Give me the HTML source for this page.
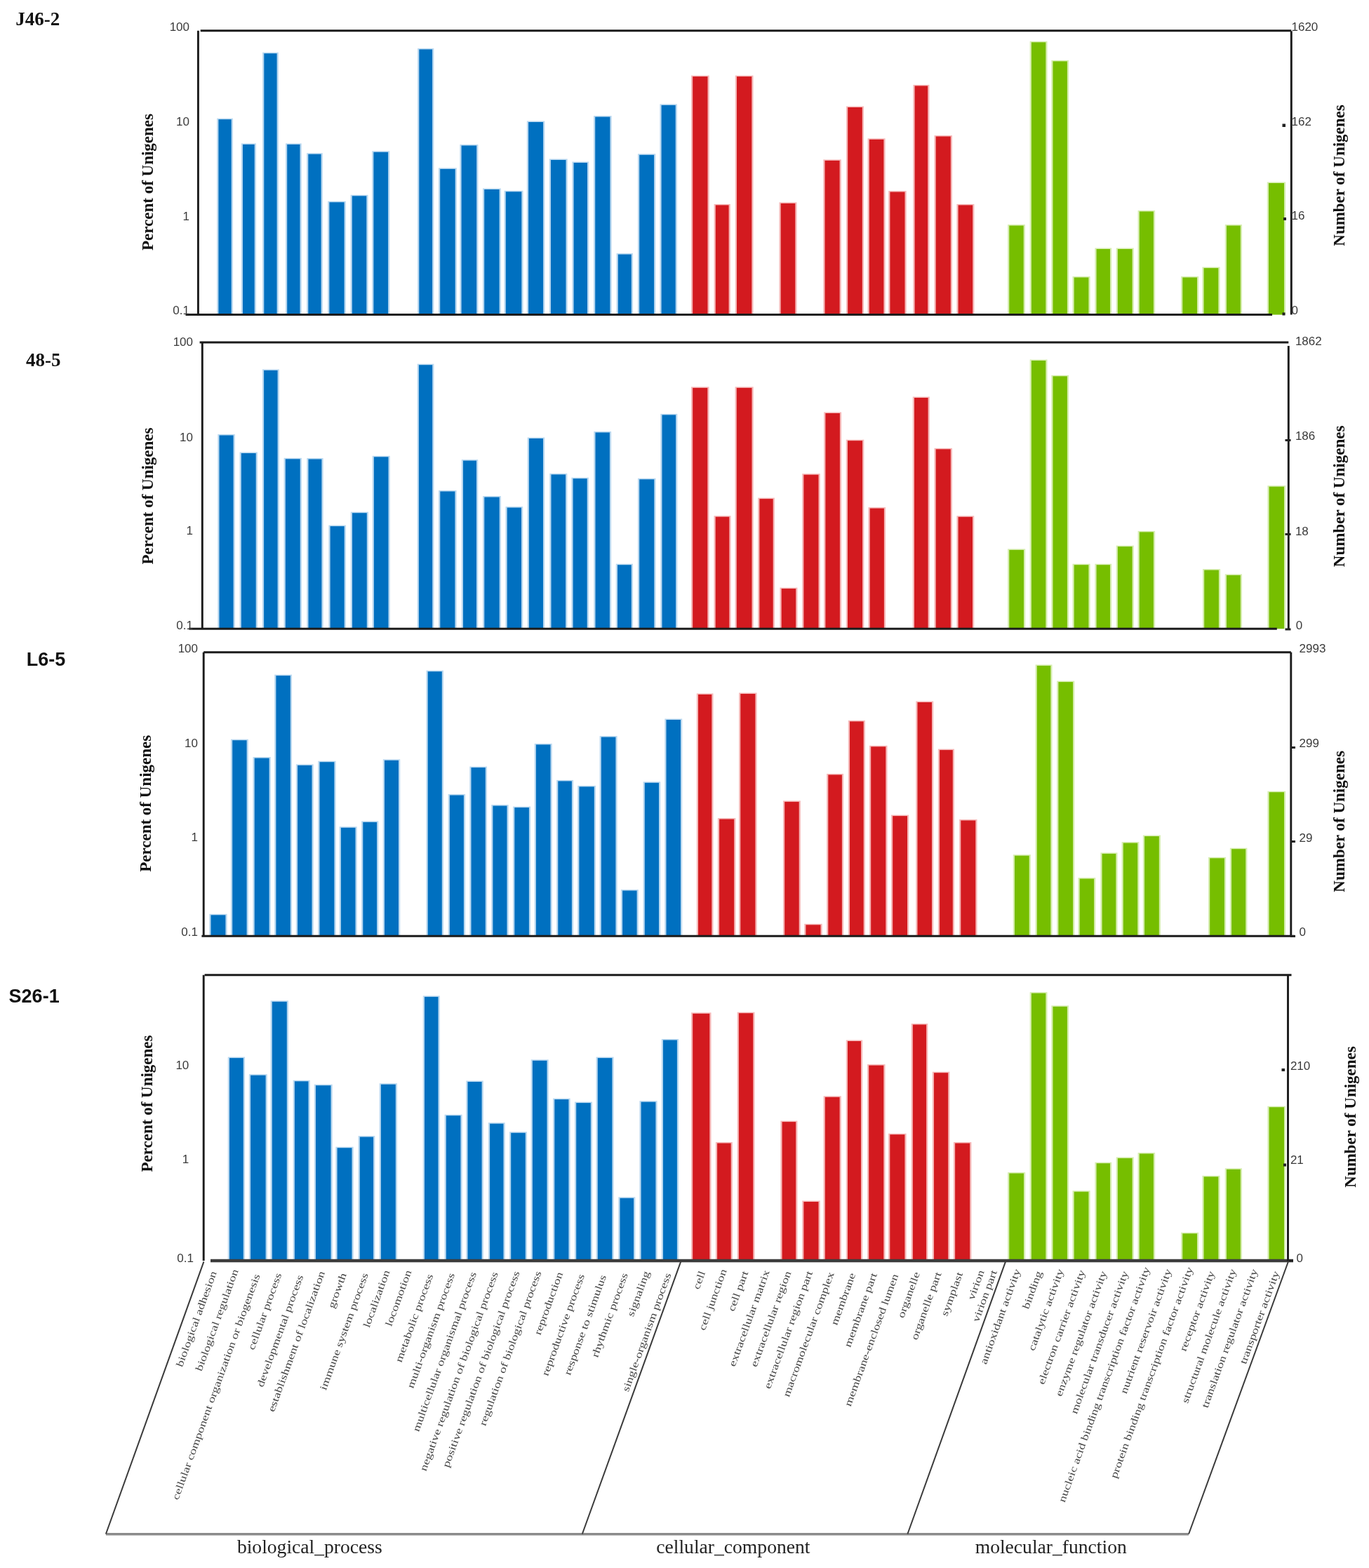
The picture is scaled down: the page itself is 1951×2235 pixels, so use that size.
<!DOCTYPE html>
<html><head><meta charset="utf-8"><title>GO classification</title>
<style>html,body{margin:0;padding:0;background:#fff;}svg{display:block;filter:blur(0.5px);}</style></head><body>
<svg width="1951" height="2235" viewBox="0 0 1951 2235">
<rect width="1951" height="2235" fill="#fff"/>
<g>
<g fill="#B9D8F0"><rect x="309.2" y="168.7" width="22.7" height="279.8"/><rect x="343.8" y="204.4" width="21.1" height="244.1"/><rect x="374.1" y="74.7" width="22.7" height="373.8"/><rect x="407" y="204.4" width="22.7" height="244.1"/><rect x="437.1" y="218.2" width="22.7" height="230.3"/><rect x="467.2" y="286.8" width="25.6" height="161.7"/><rect x="499.6" y="277.8" width="24.9" height="170.7"/><rect x="530.2" y="215.3" width="25.1" height="233.2"/><rect x="595.1" y="68.9" width="23.2" height="379.6"/><rect x="625" y="239.4" width="25.9" height="209.1"/><rect x="655.4" y="206" width="26" height="242.5"/><rect x="688" y="268.5" width="25.8" height="180"/><rect x="718.6" y="271.8" width="26.9" height="176.7"/><rect x="750.9" y="172.5" width="25.4" height="276"/><rect x="782.8" y="226.5" width="25.9" height="222"/><rect x="815.4" y="230.5" width="23.8" height="218"/><rect x="846" y="165.1" width="25.6" height="283.4"/><rect x="878.6" y="361.1" width="23.4" height="87.4"/><rect x="909" y="219.3" width="25.3" height="229.2"/><rect x="940.4" y="148.4" width="24.5" height="300.1"/></g>
<g fill="#0070C0"><rect x="311.4" y="170.2" width="18.3" height="278.3"/><rect x="346" y="205.9" width="16.7" height="242.6"/><rect x="376.3" y="76.2" width="18.3" height="372.3"/><rect x="409.2" y="205.9" width="18.3" height="242.6"/><rect x="439.3" y="219.7" width="18.3" height="228.8"/><rect x="469.4" y="288.3" width="21.2" height="160.2"/><rect x="501.8" y="279.3" width="20.5" height="169.2"/><rect x="532.4" y="216.8" width="20.7" height="231.7"/><rect x="597.3" y="70.4" width="18.8" height="378.1"/><rect x="627.2" y="240.9" width="21.5" height="207.6"/><rect x="657.6" y="207.5" width="21.6" height="241"/><rect x="690.2" y="270" width="21.4" height="178.5"/><rect x="720.8" y="273.3" width="22.5" height="175.2"/><rect x="753.1" y="174" width="21" height="274.5"/><rect x="785" y="228" width="21.5" height="220.5"/><rect x="817.6" y="232" width="19.4" height="216.5"/><rect x="848.2" y="166.6" width="21.2" height="281.9"/><rect x="880.8" y="362.6" width="19" height="85.9"/><rect x="911.2" y="220.8" width="20.9" height="227.7"/><rect x="942.6" y="149.9" width="20.1" height="298.6"/></g>
<g fill="#F6B8B8"><rect x="985" y="107.6" width="25.7" height="340.9"/><rect x="1017.6" y="290.9" width="23.2" height="157.6"/><rect x="1047.8" y="107.6" width="25.7" height="340.9"/><rect x="1110.5" y="288.4" width="25" height="160.1"/><rect x="1173.3" y="227.4" width="25.5" height="221.1"/><rect x="1206" y="151.5" width="25" height="297"/><rect x="1236.6" y="197.3" width="25" height="251.2"/><rect x="1266.2" y="272.1" width="25.5" height="176.4"/><rect x="1301.4" y="120.9" width="23" height="327.6"/><rect x="1331.5" y="193" width="25.5" height="255.5"/><rect x="1363.4" y="290.9" width="25" height="157.6"/></g>
<g fill="#D31A1F"><rect x="987.2" y="109.1" width="21.3" height="339.4"/><rect x="1019.8" y="292.4" width="18.8" height="156.1"/><rect x="1050" y="109.1" width="21.3" height="339.4"/><rect x="1112.7" y="289.9" width="20.6" height="158.6"/><rect x="1175.5" y="228.9" width="21.1" height="219.6"/><rect x="1208.2" y="153" width="20.6" height="295.5"/><rect x="1238.8" y="198.8" width="20.6" height="249.7"/><rect x="1268.4" y="273.6" width="21.1" height="174.9"/><rect x="1303.6" y="122.4" width="18.6" height="326.1"/><rect x="1333.7" y="194.5" width="21.1" height="254"/><rect x="1365.6" y="292.4" width="20.6" height="156.1"/></g>
<g fill="#D6EDB0"><rect x="1436.1" y="320.1" width="24.8" height="128.4"/><rect x="1467.7" y="58.8" width="24.8" height="389.7"/><rect x="1498.3" y="85.9" width="24.8" height="362.6"/><rect x="1528.5" y="394" width="25.1" height="54.5"/><rect x="1560.4" y="353.5" width="23.8" height="95"/><rect x="1590.7" y="353.5" width="25.1" height="95"/><rect x="1621.6" y="300" width="24.5" height="148.5"/><rect x="1683.1" y="394" width="25.1" height="54.5"/><rect x="1713.4" y="380.6" width="25.1" height="67.9"/><rect x="1745.8" y="320.1" width="24.2" height="128.4"/><rect x="1805.8" y="259.5" width="26.4" height="189"/></g>
<g fill="#76BE00"><rect x="1438.3" y="321.6" width="20.4" height="126.9"/><rect x="1469.9" y="60.3" width="20.4" height="388.2"/><rect x="1500.5" y="87.4" width="20.4" height="361.1"/><rect x="1530.7" y="395.5" width="20.7" height="53"/><rect x="1562.6" y="355" width="19.4" height="93.5"/><rect x="1592.9" y="355" width="20.7" height="93.5"/><rect x="1623.8" y="301.5" width="20.1" height="147"/><rect x="1685.3" y="395.5" width="20.7" height="53"/><rect x="1715.6" y="382.1" width="20.7" height="66.4"/><rect x="1748" y="321.6" width="19.8" height="126.9"/><rect x="1808" y="261" width="22" height="187.5"/></g>
<g stroke="#1b1b1b" stroke-width="2.9" fill="none"><line x1="285.7" y1="43.8" x2="1840.3" y2="43.8"/><line x1="282.4" y1="43.8" x2="282.4" y2="448.5"/><line x1="264.5" y1="448.5" x2="1813" y2="448.5" stroke-width="2.9" stroke="#1b1b1b"/><line x1="1840.3" y1="44.3" x2="1840.3" y2="448.5"/></g>
<g font-family='"Liberation Sans", Arial, sans-serif' font-size="17" fill="#3a3a3a"><text x="270" y="43.7" text-anchor="end">100</text><text x="270" y="179" text-anchor="end">10</text><text x="270" y="313.8" text-anchor="end">1</text><text x="270" y="448" text-anchor="end">0.1</text><text x="1840.5" y="44">1620</text><text x="1840.5" y="179.4">162</text><text x="1840.5" y="313.2">16</text><text x="1840.5" y="448">0</text><rect x="1827.5" y="176.5" width="4.5" height="4.5" fill="#222"/><rect x="1829" y="310" width="4" height="4" fill="#222"/><rect x="1827.5" y="445.5" width="4" height="4" fill="#222"/></g>
<text transform="translate(218,259.5) rotate(-90)" text-anchor="middle" font-family='"Liberation Serif", "Times New Roman", serif' font-weight="bold" font-size="23" fill="#111">Percent of Unigenes</text>
<text transform="translate(1916,250) rotate(-90)" text-anchor="middle" font-family='"Liberation Serif", "Times New Roman", serif' font-weight="bold" font-size="23" fill="#111">Number of Unigenes</text>
<text x="22.3" y="36.3" font-family='"Liberation Serif", "Times New Roman", serif' font-weight="bold" font-size="27" fill="#111">J46-2</text>
</g>
<g>
<g fill="#B9D8F0"><rect x="310.3" y="619" width="24.5" height="277.2"/><rect x="341.6" y="644.5" width="25.3" height="251.7"/><rect x="373.9" y="526.4" width="23.9" height="369.8"/><rect x="404.6" y="652.8" width="25.3" height="243.4"/><rect x="437.3" y="653" width="23.3" height="243.2"/><rect x="468.4" y="748.6" width="24.5" height="147.6"/><rect x="499.8" y="729.7" width="25.2" height="166.5"/><rect x="530.7" y="649.8" width="25" height="246.4"/><rect x="594.7" y="518.7" width="23.7" height="377.5"/><rect x="625.1" y="699" width="25.5" height="197.2"/><rect x="657.8" y="655.1" width="23.4" height="241.1"/><rect x="688.1" y="707.1" width="25.8" height="189.1"/><rect x="720.5" y="722.1" width="24.7" height="174.1"/><rect x="751.7" y="623.5" width="24.5" height="272.7"/><rect x="783.3" y="674.9" width="25" height="221.3"/><rect x="814.4" y="680.7" width="24.5" height="215.5"/><rect x="846.3" y="615" width="24.8" height="281.2"/><rect x="877.8" y="803.7" width="24.2" height="92.5"/><rect x="909" y="681.8" width="25.5" height="214.4"/><rect x="941.3" y="589.9" width="24" height="306.3"/></g>
<g fill="#0070C0"><rect x="312.5" y="620.5" width="20.1" height="275.7"/><rect x="343.8" y="646" width="20.9" height="250.2"/><rect x="376.1" y="527.9" width="19.5" height="368.3"/><rect x="406.8" y="654.3" width="20.9" height="241.9"/><rect x="439.5" y="654.5" width="18.9" height="241.7"/><rect x="470.6" y="750.1" width="20.1" height="146.1"/><rect x="502" y="731.2" width="20.8" height="165"/><rect x="532.9" y="651.3" width="20.6" height="244.9"/><rect x="596.9" y="520.2" width="19.3" height="376"/><rect x="627.3" y="700.5" width="21.1" height="195.7"/><rect x="660" y="656.6" width="19" height="239.6"/><rect x="690.3" y="708.6" width="21.4" height="187.6"/><rect x="722.7" y="723.6" width="20.3" height="172.6"/><rect x="753.9" y="625" width="20.1" height="271.2"/><rect x="785.5" y="676.4" width="20.6" height="219.8"/><rect x="816.6" y="682.2" width="20.1" height="214"/><rect x="848.5" y="616.5" width="20.4" height="279.7"/><rect x="880" y="805.2" width="19.8" height="91"/><rect x="911.2" y="683.3" width="21.1" height="212.9"/><rect x="943.5" y="591.4" width="19.6" height="304.8"/></g>
<g fill="#F6B8B8"><rect x="985" y="551.4" width="25.5" height="344.8"/><rect x="1017.5" y="735.2" width="24" height="161"/><rect x="1047.6" y="551.4" width="26.1" height="344.8"/><rect x="1080.2" y="709.6" width="23.7" height="186.6"/><rect x="1111.5" y="837.6" width="24.9" height="58.6"/><rect x="1143.2" y="675.2" width="25.5" height="221"/><rect x="1174.2" y="587.5" width="24.9" height="308.7"/><rect x="1205.8" y="626.7" width="25.5" height="269.5"/><rect x="1237.5" y="723.1" width="24.6" height="173.1"/><rect x="1300.8" y="565.5" width="24" height="330.7"/><rect x="1331.5" y="638.8" width="25.5" height="257.4"/><rect x="1363.4" y="735.3" width="24.8" height="160.9"/></g>
<g fill="#D31A1F"><rect x="987.2" y="552.9" width="21.1" height="343.3"/><rect x="1019.7" y="736.7" width="19.6" height="159.5"/><rect x="1049.8" y="552.9" width="21.7" height="343.3"/><rect x="1082.4" y="711.1" width="19.3" height="185.1"/><rect x="1113.7" y="839.1" width="20.5" height="57.1"/><rect x="1145.4" y="676.7" width="21.1" height="219.5"/><rect x="1176.4" y="589" width="20.5" height="307.2"/><rect x="1208" y="628.2" width="21.1" height="268"/><rect x="1239.7" y="724.6" width="20.2" height="171.6"/><rect x="1303" y="567" width="19.6" height="329.2"/><rect x="1333.7" y="640.3" width="21.1" height="255.9"/><rect x="1365.6" y="736.8" width="20.4" height="159.4"/></g>
<g fill="#D6EDB0"><rect x="1436.1" y="782.4" width="25.1" height="113.8"/><rect x="1467.7" y="512.5" width="24.8" height="383.7"/><rect x="1498.3" y="534.8" width="24.8" height="361.4"/><rect x="1528.5" y="803.7" width="25.1" height="92.5"/><rect x="1560.4" y="803.7" width="23.8" height="92.5"/><rect x="1590.7" y="777.6" width="25.1" height="118.6"/><rect x="1621.6" y="756.9" width="24.5" height="139.3"/><rect x="1714" y="811.1" width="25.1" height="85.1"/><rect x="1745.8" y="818.4" width="24.2" height="77.8"/><rect x="1806.4" y="692.2" width="25.8" height="204"/></g>
<g fill="#76BE00"><rect x="1438.3" y="783.9" width="20.7" height="112.3"/><rect x="1469.9" y="514" width="20.4" height="382.2"/><rect x="1500.5" y="536.3" width="20.4" height="359.9"/><rect x="1530.7" y="805.2" width="20.7" height="91"/><rect x="1562.6" y="805.2" width="19.4" height="91"/><rect x="1592.9" y="779.1" width="20.7" height="117.1"/><rect x="1623.8" y="758.4" width="20.1" height="137.8"/><rect x="1716.2" y="812.6" width="20.7" height="83.6"/><rect x="1748" y="819.9" width="19.8" height="76.3"/><rect x="1808.6" y="693.7" width="21.4" height="202.5"/></g>
<g stroke="#1b1b1b" stroke-width="2.9" fill="none"><line x1="284.6" y1="488" x2="1836.3" y2="488"/><line x1="288.3" y1="488" x2="288.3" y2="896.2"/><line x1="269.3" y1="896.2" x2="1819.8" y2="896.2" stroke-width="2.9" stroke="#1b1b1b"/><line x1="1836.3" y1="493" x2="1836.3" y2="897"/></g>
<g font-family='"Liberation Sans", Arial, sans-serif' font-size="17" fill="#3a3a3a"><text x="275" y="492.9" text-anchor="end">100</text><text x="275" y="628.8" text-anchor="end">10</text><text x="275" y="762" text-anchor="end">1</text><text x="275" y="896.6" text-anchor="end">0.1</text><text x="1845.9" y="492">1862</text><text x="1845.9" y="627.4">186</text><text x="1845.9" y="762.8">18</text><text x="1846.8" y="897.3">0</text><rect x="1831.5" y="626" width="8" height="3" fill="#222"/><rect x="1831.5" y="760" width="8" height="3" fill="#222"/><rect x="1831.5" y="895.5" width="8" height="3" fill="#222"/></g>
<text transform="translate(218,707) rotate(-90)" text-anchor="middle" font-family='"Liberation Serif", "Times New Roman", serif' font-weight="bold" font-size="23" fill="#111">Percent of Unigenes</text>
<text transform="translate(1916,707.4) rotate(-90)" text-anchor="middle" font-family='"Liberation Serif", "Times New Roman", serif' font-weight="bold" font-size="23" fill="#111">Number of Unigenes</text>
<text x="37" y="521.5" font-family='"Liberation Serif", "Times New Roman", serif' font-weight="bold" font-size="27" fill="#111">48-5</text>
</g>
<g>
<g fill="#B9D8F0"><rect x="298.3" y="1302.8" width="25.3" height="31.5"/><rect x="329" y="1053.7" width="24.8" height="280.6"/><rect x="360.5" y="1079.1" width="25.3" height="255.2"/><rect x="391.2" y="961.6" width="24.8" height="372.7"/><rect x="421.9" y="1089.4" width="24.8" height="244.9"/><rect x="453.3" y="1084.7" width="25.3" height="249.6"/><rect x="483.7" y="1178.3" width="25" height="156"/><rect x="515.1" y="1170.4" width="24.2" height="163.9"/><rect x="545.8" y="1082.3" width="24.4" height="252"/><rect x="607.5" y="955.7" width="24.5" height="378.6"/><rect x="638.7" y="1132" width="24.4" height="202.3"/><rect x="669.3" y="1092.6" width="24.7" height="241.7"/><rect x="700.2" y="1147.1" width="24.5" height="187.2"/><rect x="731.1" y="1149.6" width="25" height="184.7"/><rect x="761.7" y="1059.9" width="25" height="274.4"/><rect x="793.1" y="1111.9" width="24" height="222.4"/><rect x="823.2" y="1119.9" width="25.8" height="214.4"/><rect x="854.6" y="1049.1" width="25" height="285.2"/><rect x="884.9" y="1268" width="24.9" height="66.3"/><rect x="916.6" y="1114.3" width="24.6" height="220"/><rect x="947.3" y="1024.5" width="24.9" height="309.8"/></g>
<g fill="#0070C0"><rect x="300.5" y="1304.3" width="20.9" height="30"/><rect x="331.2" y="1055.2" width="20.4" height="279.1"/><rect x="362.7" y="1080.6" width="20.9" height="253.7"/><rect x="393.4" y="963.1" width="20.4" height="371.2"/><rect x="424.1" y="1090.9" width="20.4" height="243.4"/><rect x="455.5" y="1086.2" width="20.9" height="248.1"/><rect x="485.9" y="1179.8" width="20.6" height="154.5"/><rect x="517.3" y="1171.9" width="19.8" height="162.4"/><rect x="548" y="1083.8" width="20" height="250.5"/><rect x="609.7" y="957.2" width="20.1" height="377.1"/><rect x="640.9" y="1133.5" width="20" height="200.8"/><rect x="671.5" y="1094.1" width="20.3" height="240.2"/><rect x="702.4" y="1148.6" width="20.1" height="185.7"/><rect x="733.3" y="1151.1" width="20.6" height="183.2"/><rect x="763.9" y="1061.4" width="20.6" height="272.9"/><rect x="795.3" y="1113.4" width="19.6" height="220.9"/><rect x="825.4" y="1121.4" width="21.4" height="212.9"/><rect x="856.8" y="1050.6" width="20.6" height="283.7"/><rect x="887.1" y="1269.5" width="20.5" height="64.8"/><rect x="918.8" y="1115.8" width="20.2" height="218.5"/><rect x="949.5" y="1026" width="20.5" height="308.3"/></g>
<g fill="#F6B8B8"><rect x="992.8" y="988.4" width="23.7" height="345.9"/><rect x="1022.9" y="1166.1" width="25.5" height="168.2"/><rect x="1053.1" y="987.5" width="25.5" height="346.8"/><rect x="1116" y="1141.4" width="24.9" height="192.9"/><rect x="1146.2" y="1316.8" width="25.5" height="17.5"/><rect x="1178.1" y="1102.9" width="24" height="231.4"/><rect x="1208.8" y="1026.9" width="24.1" height="307.4"/><rect x="1239" y="1062.8" width="25.5" height="271.5"/><rect x="1270" y="1161.6" width="25.2" height="172.7"/><rect x="1305.3" y="999.5" width="24.9" height="334.8"/><rect x="1336.9" y="1067.6" width="23.1" height="266.7"/><rect x="1367.1" y="1168" width="25.4" height="166.3"/></g>
<g fill="#D31A1F"><rect x="995" y="989.9" width="19.3" height="344.4"/><rect x="1025.1" y="1167.6" width="21.1" height="166.7"/><rect x="1055.3" y="989" width="21.1" height="345.3"/><rect x="1118.2" y="1142.9" width="20.5" height="191.4"/><rect x="1148.4" y="1318.3" width="21.1" height="16"/><rect x="1180.3" y="1104.4" width="19.6" height="229.9"/><rect x="1211" y="1028.4" width="19.7" height="305.9"/><rect x="1241.2" y="1064.3" width="21.1" height="270"/><rect x="1272.2" y="1163.1" width="20.8" height="171.2"/><rect x="1307.5" y="1001" width="20.5" height="333.3"/><rect x="1339.1" y="1069.1" width="18.7" height="265.2"/><rect x="1369.3" y="1169.5" width="21" height="164.8"/></g>
<g fill="#D6EDB0"><rect x="1443.8" y="1218.2" width="25.1" height="116.1"/><rect x="1475.6" y="947.4" width="23.9" height="386.9"/><rect x="1506.2" y="970.6" width="25.1" height="363.7"/><rect x="1536.5" y="1251.1" width="24.8" height="83.2"/><rect x="1568.4" y="1215.4" width="24.1" height="118.9"/><rect x="1598.6" y="1200.1" width="24.8" height="134.2"/><rect x="1628.9" y="1190.5" width="25.1" height="143.8"/><rect x="1722" y="1221.8" width="25.1" height="112.5"/><rect x="1752.9" y="1208.7" width="24.5" height="125.6"/><rect x="1806.4" y="1127.7" width="25.8" height="206.6"/></g>
<g fill="#76BE00"><rect x="1446" y="1219.7" width="20.7" height="114.6"/><rect x="1477.8" y="948.9" width="19.5" height="385.4"/><rect x="1508.4" y="972.1" width="20.7" height="362.2"/><rect x="1538.7" y="1252.6" width="20.4" height="81.7"/><rect x="1570.6" y="1216.9" width="19.7" height="117.4"/><rect x="1600.8" y="1201.6" width="20.4" height="132.7"/><rect x="1631.1" y="1192" width="20.7" height="142.3"/><rect x="1724.2" y="1223.3" width="20.7" height="111"/><rect x="1755.1" y="1210.2" width="20.1" height="124.1"/><rect x="1808.6" y="1129.2" width="21.4" height="205.1"/></g>
<g stroke="#1b1b1b" stroke-width="2.9" fill="none"><line x1="290.2" y1="929.7" x2="1839.8" y2="929.7"/><line x1="290.2" y1="929.7" x2="290.2" y2="1334.3"/><line x1="287.4" y1="1334.3" x2="1845" y2="1334.3" stroke-width="2.9" stroke="#1b1b1b"/><line x1="1839.8" y1="929.7" x2="1839.8" y2="1334.5"/></g>
<g font-family='"Liberation Sans", Arial, sans-serif' font-size="17" fill="#3a3a3a"><text x="282" y="930" text-anchor="end">100</text><text x="282" y="1064.8" text-anchor="end">10</text><text x="282" y="1198.7" text-anchor="end">1</text><text x="282" y="1334" text-anchor="end">0.1</text><text x="1851.6" y="930.3">2993</text><text x="1851.6" y="1065.1">299</text><text x="1851.6" y="1199.6">29</text><text x="1851.6" y="1333.5">0</text><rect x="1839" y="1064" width="7" height="3" fill="#222"/><rect x="1839" y="1198" width="7" height="3" fill="#222"/><rect x="1839" y="1333" width="7" height="3" fill="#222"/></g>
<text transform="translate(215.3,1145.3) rotate(-90)" text-anchor="middle" font-family='"Liberation Serif", "Times New Roman", serif' font-weight="bold" font-size="23" fill="#111">Percent of Unigenes</text>
<text transform="translate(1915.7,1170.9) rotate(-90)" text-anchor="middle" font-family='"Liberation Serif", "Times New Roman", serif' font-weight="bold" font-size="23" fill="#111">Number of Unigenes</text>
<text x="37.7" y="949.2" font-family='"Liberation Sans", Arial, sans-serif' font-weight="bold" font-size="27" fill="#111">L6-5</text>
</g>
<g>
<g fill="#B9D8F0"><rect x="324.8" y="1506.6" width="24.2" height="290.4"/><rect x="354.9" y="1531.2" width="25.9" height="265.8"/><rect x="385.6" y="1426.3" width="25.4" height="370.7"/><rect x="417.7" y="1539.8" width="24" height="257.2"/><rect x="447.8" y="1545.7" width="25.9" height="251.3"/><rect x="478.4" y="1634.7" width="25.3" height="162.3"/><rect x="510.6" y="1619.1" width="23.7" height="177.9"/><rect x="540.7" y="1544.2" width="25.3" height="252.8"/><rect x="602.8" y="1419.4" width="23.9" height="377.6"/><rect x="633.6" y="1588.7" width="25" height="208.3"/><rect x="664.3" y="1540.5" width="24.5" height="256.5"/><rect x="695.9" y="1600.2" width="23.8" height="196.8"/><rect x="726" y="1613.3" width="25" height="183.7"/><rect x="756.7" y="1510.3" width="25" height="286.7"/><rect x="788.1" y="1565.6" width="24.5" height="231.4"/><rect x="819" y="1570.6" width="25" height="226.4"/><rect x="849.6" y="1506.6" width="25" height="290.4"/><rect x="881.3" y="1706.3" width="24" height="90.7"/><rect x="911.4" y="1569.2" width="25.2" height="227.8"/><rect x="942.8" y="1481" width="24.3" height="316"/></g>
<g fill="#0070C0"><rect x="327" y="1508.1" width="19.8" height="288.9"/><rect x="357.1" y="1532.7" width="21.5" height="264.3"/><rect x="387.8" y="1427.8" width="21" height="369.2"/><rect x="419.9" y="1541.3" width="19.6" height="255.7"/><rect x="450" y="1547.2" width="21.5" height="249.8"/><rect x="480.6" y="1636.2" width="20.9" height="160.8"/><rect x="512.8" y="1620.6" width="19.3" height="176.4"/><rect x="542.9" y="1545.7" width="20.9" height="251.3"/><rect x="605" y="1420.9" width="19.5" height="376.1"/><rect x="635.8" y="1590.2" width="20.6" height="206.8"/><rect x="666.5" y="1542" width="20.1" height="255"/><rect x="698.1" y="1601.7" width="19.4" height="195.3"/><rect x="728.2" y="1614.8" width="20.6" height="182.2"/><rect x="758.9" y="1511.8" width="20.6" height="285.2"/><rect x="790.3" y="1567.1" width="20.1" height="229.9"/><rect x="821.2" y="1572.1" width="20.6" height="224.9"/><rect x="851.8" y="1508.1" width="20.6" height="288.9"/><rect x="883.5" y="1707.8" width="19.6" height="89.2"/><rect x="913.6" y="1570.7" width="20.8" height="226.3"/><rect x="945" y="1482.5" width="19.9" height="314.5"/></g>
<g fill="#F6B8B8"><rect x="985" y="1443.3" width="28.5" height="353.7"/><rect x="1019.9" y="1628" width="24" height="169"/><rect x="1050.7" y="1442.7" width="24.8" height="354.3"/><rect x="1112.4" y="1597.6" width="24" height="199.4"/><rect x="1143.2" y="1711.5" width="25.5" height="85.5"/><rect x="1173.6" y="1562.3" width="25.2" height="234.7"/><rect x="1205.8" y="1482.5" width="23.4" height="314.5"/><rect x="1236" y="1517.1" width="25.5" height="279.9"/><rect x="1266.1" y="1615.7" width="25.5" height="181.3"/><rect x="1298.7" y="1459" width="23.6" height="338"/><rect x="1328.8" y="1527.7" width="24.6" height="269.3"/><rect x="1358.9" y="1628" width="25.5" height="169"/></g>
<g fill="#D31A1F"><rect x="987.2" y="1444.8" width="24.1" height="352.2"/><rect x="1022.1" y="1629.5" width="19.6" height="167.5"/><rect x="1052.9" y="1444.2" width="20.4" height="352.8"/><rect x="1114.6" y="1599.1" width="19.6" height="197.9"/><rect x="1145.4" y="1713" width="21.1" height="84"/><rect x="1175.8" y="1563.8" width="20.8" height="233.2"/><rect x="1208" y="1484" width="19" height="313"/><rect x="1238.2" y="1518.6" width="21.1" height="278.4"/><rect x="1268.3" y="1617.2" width="21.1" height="179.8"/><rect x="1300.9" y="1460.5" width="19.2" height="336.5"/><rect x="1331" y="1529.2" width="20.2" height="267.8"/><rect x="1361.1" y="1629.5" width="21.1" height="167.5"/></g>
<g fill="#D6EDB0"><rect x="1436.1" y="1671" width="25.1" height="126"/><rect x="1467.7" y="1414.2" width="24.8" height="382.8"/><rect x="1498.3" y="1433.3" width="24.8" height="363.7"/><rect x="1528.5" y="1697.2" width="25.1" height="99.8"/><rect x="1560.4" y="1656.7" width="23.8" height="140.3"/><rect x="1590.7" y="1649.4" width="25.1" height="147.6"/><rect x="1621.6" y="1643" width="24.5" height="154"/><rect x="1683.1" y="1756.8" width="25.1" height="40.2"/><rect x="1713.4" y="1675.8" width="25.1" height="121.2"/><rect x="1745.8" y="1665.3" width="24.2" height="131.7"/><rect x="1806.4" y="1576.7" width="25.8" height="220.3"/></g>
<g fill="#76BE00"><rect x="1438.3" y="1672.5" width="20.7" height="124.5"/><rect x="1469.9" y="1415.7" width="20.4" height="381.3"/><rect x="1500.5" y="1434.8" width="20.4" height="362.2"/><rect x="1530.7" y="1698.7" width="20.7" height="98.3"/><rect x="1562.6" y="1658.2" width="19.4" height="138.8"/><rect x="1592.9" y="1650.9" width="20.7" height="146.1"/><rect x="1623.8" y="1644.5" width="20.1" height="152.5"/><rect x="1685.3" y="1758.3" width="20.7" height="38.7"/><rect x="1715.6" y="1677.3" width="20.7" height="119.7"/><rect x="1748" y="1666.8" width="19.8" height="130.2"/><rect x="1808.6" y="1578.2" width="21.4" height="218.8"/></g>
<g stroke="#1b1b1b" stroke-width="2.9" fill="none"><line x1="291.6" y1="1389.7" x2="1840.5" y2="1389.7"/><line x1="290.2" y1="1389.7" x2="290.2" y2="1797"/><line x1="300" y1="1797" x2="1843" y2="1797" stroke-width="4.6" stroke="#3c3c3c"/><line x1="1835.5" y1="1390" x2="1835.5" y2="1797.5"/></g>
<g font-family='"Liberation Sans", Arial, sans-serif' font-size="17" fill="#3a3a3a"><text x="269.3" y="1523.9" text-anchor="end">10</text><text x="269.3" y="1658.4" text-anchor="end">1</text><text x="276" y="1798.7" text-anchor="end">0.1</text><text x="1838.9" y="1524.6">210</text><text x="1838.9" y="1659.4">21</text><text x="1847.5" y="1798.7">0</text><rect x="1826.5" y="1523" width="4.5" height="4" fill="#222"/><rect x="1829" y="1658.5" width="4" height="4" fill="#222"/><rect x="1836" y="1795.5" width="7" height="3" fill="#222"/></g>
<text transform="translate(216.5,1573) rotate(-90)" text-anchor="middle" font-family='"Liberation Serif", "Times New Roman", serif' font-weight="bold" font-size="23" fill="#111">Percent of Unigenes</text>
<text transform="translate(1932,1592) rotate(-90)" text-anchor="middle" font-family='"Liberation Serif", "Times New Roman", serif' font-weight="bold" font-size="23" fill="#111">Number of Unigenes</text>
<text x="12.6" y="1428.6" font-family='"Liberation Sans", Arial, sans-serif' font-weight="bold" font-size="27" fill="#111">S26-1</text>
</g>
<line x1="150.9" y1="2186.8" x2="1694.1" y2="2186.8" stroke="#8a8a8a" stroke-width="3.6"/><g stroke="#3a3a3a" stroke-width="2" fill="none"><line x1="290.4" y1="1798.4" x2="150.9" y2="2186.5"/><line x1="1836.4" y1="1797" x2="1694.1" y2="2186.5"/><line x1="970.2" y1="1798.4" x2="829.8" y2="2186.5"/><line x1="1433" y1="1798.4" x2="1293.4" y2="2186.5"/></g>
<g font-family='"Liberation Serif", "Times New Roman", serif' font-size="14.3" fill="#444" text-anchor="end"><text transform="translate(309,1813.7) rotate(-70) scale(1.294,1)">biological adhesion</text><text transform="translate(339.8,1811) rotate(-70) scale(1.294,1)">biological regulation</text><text transform="translate(370.7,1817.9) rotate(-70) scale(1.294,1)">cellular component organization or biogenesis</text><text transform="translate(401.5,1816.5) rotate(-70) scale(1.294,1)">cellular process</text><text transform="translate(432.4,1819.3) rotate(-70) scale(1.294,1)">developmental process</text><text transform="translate(463.2,1813.7) rotate(-70) scale(1.294,1)">establishment of localization</text><text transform="translate(494,1816.5) rotate(-70) scale(1.294,1)">growth</text><text transform="translate(524.9,1816.5) rotate(-70) scale(1.294,1)">immune system process</text><text transform="translate(555.7,1812.3) rotate(-70) scale(1.294,1)">localization</text><text transform="translate(586.6,1812.3) rotate(-70) scale(1.294,1)">locomotion</text><text transform="translate(617.4,1817.9) rotate(-70) scale(1.294,1)">metabolic process</text><text transform="translate(648.2,1816.5) rotate(-70) scale(1.294,1)">multi-organism process</text><text transform="translate(679.1,1815.1) rotate(-70) scale(1.294,1)">multicellular organismal process</text><text transform="translate(709.9,1815.1) rotate(-70) scale(1.294,1)">negative regulation of biological process</text><text transform="translate(740.8,1813.7) rotate(-70) scale(1.294,1)">positive regulation of biological process</text><text transform="translate(771.6,1813.7) rotate(-70) scale(1.294,1)">regulation of biological process</text><text transform="translate(802.4,1815.1) rotate(-70) scale(1.294,1)">reproduction</text><text transform="translate(833.3,1817.9) rotate(-70) scale(1.294,1)">reproductive process</text><text transform="translate(864.1,1819.3) rotate(-70) scale(1.294,1)">response to stimulus</text><text transform="translate(895,1816.5) rotate(-70) scale(1.294,1)">rhythmic process</text><text transform="translate(925.8,1813.7) rotate(-70) scale(1.294,1)">signaling</text><text transform="translate(956.6,1816.5) rotate(-70) scale(1.294,1)">single-organism process</text><text transform="translate(1005.3,1813.7) rotate(-70) scale(1.294,1)">cell</text><text transform="translate(1035.9,1810.9) rotate(-70) scale(1.294,1)">cell junction</text><text transform="translate(1066.5,1813.7) rotate(-70) scale(1.294,1)">cell part</text><text transform="translate(1097,1812.3) rotate(-70) scale(1.294,1)">extracellular matrix</text><text transform="translate(1127.6,1813.7) rotate(-70) scale(1.294,1)">extracellular region</text><text transform="translate(1158.2,1813.7) rotate(-70) scale(1.294,1)">extracellular region part</text><text transform="translate(1188.8,1815.1) rotate(-70) scale(1.294,1)">macromolecular complex</text><text transform="translate(1219.4,1816.5) rotate(-70) scale(1.294,1)">membrane</text><text transform="translate(1249.9,1816.5) rotate(-70) scale(1.294,1)">membrane part</text><text transform="translate(1280.5,1817.9) rotate(-70) scale(1.294,1)">membrane-enclosed lumen</text><text transform="translate(1311.1,1815.1) rotate(-70) scale(1.294,1)">organelle</text><text transform="translate(1341.7,1815.1) rotate(-70) scale(1.294,1)">organelle part</text><text transform="translate(1372.3,1815.1) rotate(-70) scale(1.294,1)">symplast</text><text transform="translate(1402.8,1812.3) rotate(-70) scale(1.294,1)">virion</text><text transform="translate(1421.1,1812.3) rotate(-70) scale(1.294,1)">virion part</text><text transform="translate(1454.4,1810.9) rotate(-70) scale(1.294,1)">antioxidant activity</text><text transform="translate(1485.1,1813.7) rotate(-70) scale(1.294,1)">binding</text><text transform="translate(1515.9,1810.9) rotate(-70) scale(1.294,1)">catalytic activity</text><text transform="translate(1546.6,1812.3) rotate(-70) scale(1.294,1)">electron carrier activity</text><text transform="translate(1577.4,1813.7) rotate(-70) scale(1.294,1)">enzyme regulator activity</text><text transform="translate(1608.1,1813.7) rotate(-70) scale(1.294,1)">molecular transducer activity</text><text transform="translate(1638.8,1808.1) rotate(-70) scale(1.294,1)">nucleic acid binding transcription factor activity</text><text transform="translate(1669.6,1810.9) rotate(-70) scale(1.294,1)">nutrient reservoir activity</text><text transform="translate(1700.3,1808.1) rotate(-70) scale(1.294,1)">protein binding transcription factor activity</text><text transform="translate(1731.1,1813.7) rotate(-70) scale(1.294,1)">receptor activity</text><text transform="translate(1761.8,1810.9) rotate(-70) scale(1.294,1)">structural molecule activity</text><text transform="translate(1792.5,1810.9) rotate(-70) scale(1.294,1)">translation regulator activity</text><text transform="translate(1823.3,1813.7) rotate(-70) scale(1.294,1)">transporter activity</text></g>
<g font-family='"Liberation Serif", "Times New Roman", serif' font-size="27.6" fill="#222"><text x="337.9" y="2214">biological_process</text><text x="935.3" y="2214">cellular_component</text><text x="1389.7" y="2214">molecular_function</text></g>
</svg>
</body></html>
